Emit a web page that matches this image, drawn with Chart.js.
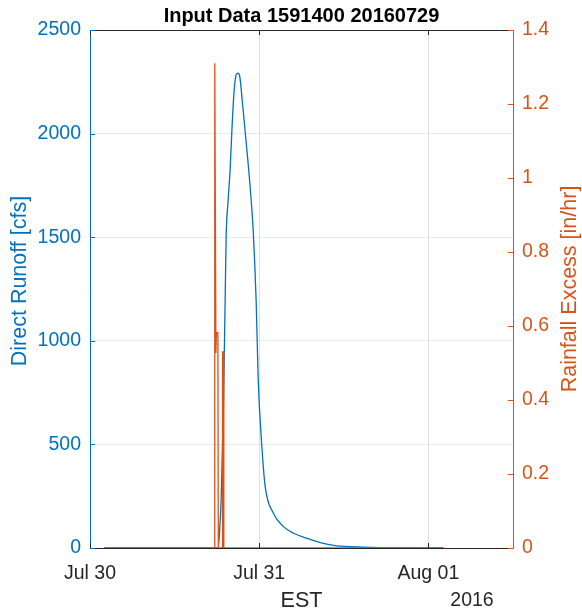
<!DOCTYPE html>
<html>
<head>
<meta charset="utf-8">
<script src="https://cdn.jsdelivr.net/npm/chart.js@4/dist/chart.umd.min.js"></script>
<style>
  html, body { margin: 0; padding: 0; background: #fff; }
  #wrap { width: 582px; height: 612px; }
</style>
</head>
<body>
<div id="wrap"><canvas id="myChart" width="582" height="612"></canvas></div>
<script>
// x axis is hours since Jul 30 00:00 EST
var xTickHours = [0, 24, 48];
var xTickLabels = ['Jul 30', 'Jul 31', 'Aug 01'];

// direct runoff [cfs]
var runoffHours = [2.0, 18.18, 18.39, 18.6, 18.89, 19.17, 19.31, 19.6, 19.88, 20.16, 20.45, 20.73, 20.98,
                   21.23, 21.59, 22.01, 22.72, 23.15, 23.57, 23.86, 24.38, 24.85, 26.03, 27.45, 28.87,
                   30.77, 32.66, 34.55, 36.92, 41.18, 50.13];
var runoffCfs = [0, 0, 87, 232, 618, 1197, 1500, 1680, 1830, 2040, 2210, 2283, 2292,
                 2278, 2162, 2010, 1740, 1530, 1190, 811, 489, 296, 167, 103, 71,
                 47, 26, 13, 6, 1.5, 0];

// rainfall excess [in/hr]
var rainHours = [2.0, 17.62, 17.7, 17.86, 17.93, 18.14, 18.2, 18.76, 18.8, 18.94, 18.98, 50.13];
var rainExcess = [0, 0, 1.31, 0.527, 0.582, 0.582, 0, 0, 0.53, 0.53, 0, 0];

var BLUE = '#0072BD';
var ORANGE = '#D95319';
var DARK = '#262626';
var FONT = '"Liberation Sans", Arial, Helvetica, sans-serif';

function toPoints(xs, ys) {
   return xs.map(function (x, i) { return { x: x, y: ys[i] }; });
}

var extras = {
   id: 'extras',
   afterDraw: function (chart) {
      var ctx = chart.ctx;
      var a = chart.chartArea;
      var yl = chart.scales.y;
      var yr = chart.scales.y1;
      var xs = chart.scales.x;
      ctx.save();
      // top border
      ctx.strokeStyle = DARK;
      ctx.lineWidth = 1;
      ctx.beginPath();
      ctx.moveTo(a.left, a.top + 0.5);
      ctx.lineTo(a.right, a.top + 0.5);
      ctx.stroke();
      // inward ticks on x (bottom and top)
      xTickHours.forEach(function (h) {
         var px = Math.round(xs.getPixelForValue(h)) + 0.5;
         ctx.beginPath();
         ctx.moveTo(px, a.bottom);
         ctx.lineTo(px, a.bottom - 5);
         ctx.moveTo(px, a.top);
         ctx.lineTo(px, a.top + 5);
         ctx.stroke();
      });
      // inward ticks on left y
      ctx.strokeStyle = BLUE;
      yl.ticks.forEach(function (t) {
         var py = Math.round(yl.getPixelForValue(t.value)) + 0.5;
         ctx.beginPath();
         ctx.moveTo(a.left, py);
         ctx.lineTo(a.left + 5, py);
         ctx.stroke();
      });
      // inward ticks on right y
      ctx.strokeStyle = ORANGE;
      yr.ticks.forEach(function (t) {
         var py = Math.round(yr.getPixelForValue(t.value)) + 0.5;
         ctx.beginPath();
         ctx.moveTo(a.right, py);
         ctx.lineTo(a.right - 5, py);
         ctx.stroke();
      });

      // title
      var cx = (a.left + a.right) / 2;
      ctx.fillStyle = '#000';
      ctx.font = 'bold 20px ' + FONT;
      ctx.textAlign = 'center';
      ctx.textBaseline = 'alphabetic';
      ctx.fillText('Input Data 1591400 20160729', cx, 22);

      // x label and year
      ctx.fillStyle = DARK;
      ctx.font = '21.5px ' + FONT;
      ctx.fillText('EST', cx, 607);
      ctx.font = '19.5px ' + FONT;
      ctx.fillText('2016', 472, 606);

      // y labels
      var cy = (a.top + a.bottom) / 2;
      ctx.font = '21.5px ' + FONT;
      ctx.textBaseline = 'middle';
      ctx.save();
      ctx.translate(20, cy - 8);
      ctx.rotate(-Math.PI / 2);
      ctx.fillStyle = BLUE;
      ctx.fillText('Direct Runoff [cfs]', 0, 0);
      ctx.restore();
      ctx.save();
      ctx.translate(570, cy);
      ctx.rotate(-Math.PI / 2);
      ctx.fillStyle = ORANGE;
      ctx.fillText('Rainfall Excess [in/hr]', 0, 0);
      ctx.restore();
      ctx.restore();
   }
};

var ctx = document.getElementById('myChart').getContext('2d');
var myChart = new Chart(ctx, {
   type: 'line',
   data: {
      datasets: [{
         label: 'Rainfall Excess',
         data: toPoints(rainHours, rainExcess),
         yAxisID: 'y1',
         borderColor: ORANGE,
         borderWidth: 1.3,
         pointRadius: 0,
         tension: 0,
         order: 0
      }, {
         label: 'Direct Runoff',
         data: toPoints(runoffHours, runoffCfs),
         yAxisID: 'y',
         borderColor: BLUE,
         borderWidth: 1.3,
         pointRadius: 0,
         cubicInterpolationMode: 'monotone',
         order: 1
      }]
   },
   options: {
      responsive: false,
      animation: false,
      layout: { padding: { top: 30, left: 0, right: 0, bottom: 0 } },
      plugins: {
         legend: { display: false },
         tooltip: { enabled: false },
         title: { display: false }
      },
      scales: {
         x: {
            type: 'linear',
            min: 0,
            max: 60,
            afterBuildTicks: function (scale) {
               scale.ticks = xTickHours.map(function (v) { return { value: v }; });
            },
            afterFit: function (scale) { scale.height = 64; },
            ticks: {
               autoSkip: false,
               maxRotation: 0,
               padding: 14,
               color: DARK,
               font: { family: FONT, size: 19.5 },
               callback: function (v) {
                  var i = xTickHours.indexOf(v);
                  return i >= 0 ? xTickLabels[i] : '';
               }
            },
            grid: {
               drawTicks: false,
               color: function (c) {
                  return c.tick && c.tick.value === 0 ? 'rgba(0,0,0,0)' : 'rgba(38,38,38,0.15)';
               }
            },
            border: { color: DARK, width: 1 }
         },
         y: {
            position: 'left',
            min: 0,
            max: 2500,
            afterFit: function (scale) { scale.width = 90; },
            ticks: {
               stepSize: 500,
               padding: 9,
               color: BLUE,
               font: { family: FONT, size: 19.5 },
               callback: function (v) { return String(v); }
            },
            grid: {
               drawTicks: false,
               color: function (c) {
                  return c.tick && c.tick.value === 0 ? 'rgba(0,0,0,0)' : 'rgba(0,114,189,0.13)';
               }
            },
            border: { color: BLUE, width: 1 }
         },
         y1: {
            position: 'right',
            min: 0,
            max: 1.4,
            afterFit: function (scale) { scale.width = 69; },
            ticks: {
               stepSize: 0.2,
               padding: 9,
               color: ORANGE,
               font: { family: FONT, size: 19.5 },
               callback: function (v) { return String(Number(v.toFixed(1))); }
            },
            grid: { drawOnChartArea: false, drawTicks: false },
            border: { color: ORANGE, width: 1 }
         }
      }
   },
   plugins: [extras]
});
</script>
</body>
</html>
